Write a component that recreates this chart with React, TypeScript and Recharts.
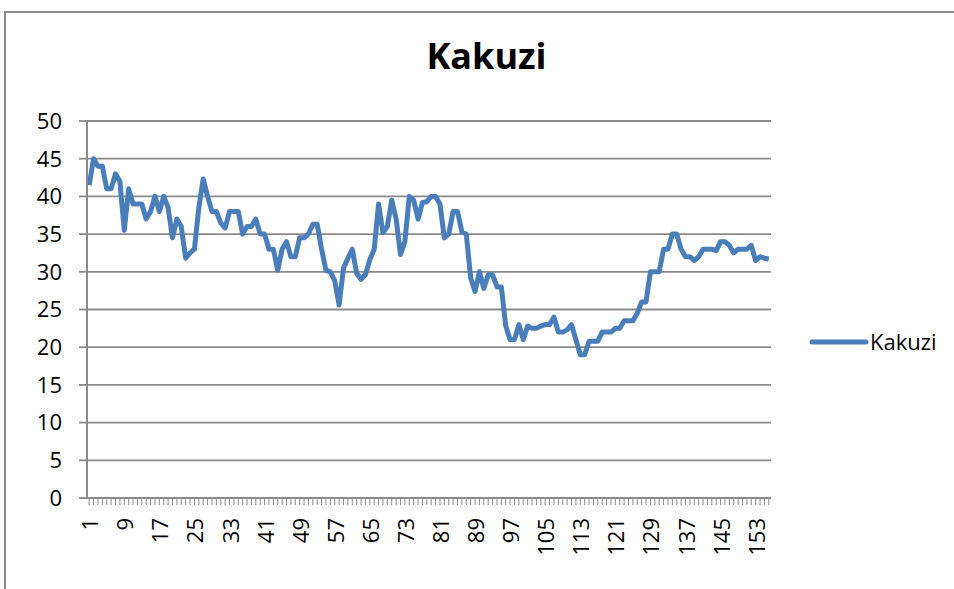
import { CartesianGrid, Legend, Line, LineChart, XAxis, YAxis } from "recharts"

// Kakuzi share price
const prices = [
  41.5, 45, 44, 44, 41, 41, 43, 42, 35.5, 41,
  39, 39, 39, 37, 38, 40, 38, 40, 38.5, 34.5,
  37, 36, 31.8, 32.5, 33, 38.5, 42.3, 40, 38, 38,
  36.5, 35.8, 38, 38, 38, 35, 36, 36, 37, 35,
  35, 33, 33, 30.2, 33, 34, 32, 32, 34.5, 34.5,
  35, 36.3, 36.3, 33, 30.2, 30, 28.8, 25.6, 30.5, 31.8,
  33, 29.8, 29, 29.6, 31.6, 33, 39, 35.2, 36, 39.5,
  37, 32.3, 34, 40, 39.5, 37, 39.2, 39.3, 40, 40,
  39, 34.5, 35, 38, 38, 35.3, 35, 29.2, 27.4, 30,
  27.8, 29.6, 29.6, 28, 28, 22.8, 21, 21, 23, 21,
  22.8, 22.5, 22.5, 22.8, 23, 23, 24, 22, 22, 22.3,
  23, 21, 19, 19, 20.8, 20.8, 20.8, 22, 22, 22,
  22.5, 22.5, 23.5, 23.5, 23.5, 24.5, 26, 26, 30, 30,
  30, 33, 33, 35, 35, 33, 32, 32, 31.5, 32,
  33, 33, 33, 32.8, 34, 34, 33.5, 32.5, 33, 33,
  33, 33.5, 31.5, 32, 31.8, 31.7,
]
const days = prices.map((_, i) => String(i + 1))
const yTicks = [0, 5, 10, 15, 20, 25, 30, 35, 40, 45, 50]

const data = days.map((d, i) => ({ day: d, Kakuzi: prices[i] }))

const BLUE = "#4A7EBB"
const GRID = "#8A8A8A"
const FONT = "'Open Sans', sans-serif"

function DayTick(props: any) {
  const { x, y, payload, index } = props
  if (index % 8 !== 0) return null
  return (
    <text
      transform={`translate(${x},${y}) rotate(-90)`}
      textAnchor="end"
      dominantBaseline="central"
      fontSize={22}
      fontFamily={FONT}
      fill="#000"
    >
      {payload.value}
    </text>
  )
}

function KeyBox() {
  return (
    <svg width={140} height={30} style={{ overflow: "visible", display: "block" }}>
      <line x1={6} y1={14} x2={60} y2={14} stroke={BLUE} strokeWidth={5} strokeLinecap="round" />
      <text x={64} y={22} fontSize={22} fontFamily={FONT} fill="#000">
        Kakuzi
      </text>
    </svg>
  )
}

export default function App() {
  return (
    <div
      style={{
        position: "fixed",
        left: 0,
        top: 0,
        width: 954,
        height: 589,
        overflow: "hidden",
        background: "#fff",
      }}
    >
      {/* chart frame, runs off the right and bottom edge */}
      <div
        style={{
          position: "absolute",
          left: 4,
          top: 11,
          width: 980,
          height: 620,
          border: "2px solid #8C8C8C",
          boxSizing: "border-box",
        }}
      />
      <div style={{ position: "absolute", left: 0, top: 0 }}>
        <LineChart width={954} height={589} data={data} margin={{ top: 121, right: 183, bottom: 11, left: 27 }}>
          <CartesianGrid vertical={false} stroke={GRID} strokeWidth={1.8} />
          <XAxis
            dataKey="day"
            scale="band"
            interval={0}
            height={80}
            tick={<DayTick />}
            tickSize={7}
            tickMargin={13}
            tickLine={{ stroke: GRID, strokeWidth: 1 }}
            axisLine={{ stroke: GRID, strokeWidth: 2 }}
          />
          <YAxis
            domain={[0, 50]}
            ticks={yTicks}
            interval={0}
            width={60}
            tickSize={8}
            tickMargin={17}
            tick={{ fill: "#000", fontSize: 22, fontFamily: FONT }}
            tickLine={{ stroke: GRID, strokeWidth: 1.8 }}
            axisLine={{ stroke: GRID, strokeWidth: 2 }}
          />
          <Legend
            layout="vertical"
            align="center"
            verticalAlign="middle"
            wrapperStyle={{ left: 806, top: 328, width: 140 }}
            content={() => <KeyBox />}
          />
          <Line
            type="linear"
            dataKey="Kakuzi"
            stroke={BLUE}
            strokeWidth={5}
            strokeLinejoin="round"
            dot={false}
            activeDot={false}
            isAnimationActive={false}
          />
        </LineChart>
      </div>
      <svg
        width={954}
        height={589}
        style={{ position: "absolute", left: 0, top: 0, pointerEvents: "none" }}
      >
        <text x={486.5} y={69} textAnchor="middle" fontSize={36} fontWeight={700} fontFamily={FONT} fill="#000">
          Kakuzi
        </text>
      </svg>
    </div>
  )
}
